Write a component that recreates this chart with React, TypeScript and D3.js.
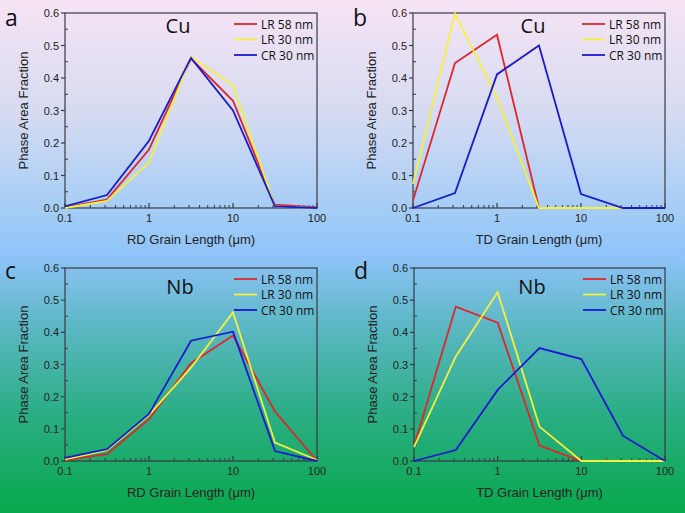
import React from 'react';
import * as d3 from 'd3';

const grainSizes = [0.1, 0.316, 1, 3.16, 10, 31.6, 100];
const seriesNames = ['LR 58 nm', 'LR 30 nm', 'CR 30 nm'];
const seriesColors = ['#e0252b', '#f4f03c', '#1a1ad0'];
const yTicks = [0, 0.1, 0.2, 0.3, 0.4, 0.5, 0.6];
const yMinorTicks = [0.05, 0.15, 0.25, 0.35, 0.45, 0.55];
const xTicks = [0.1, 1, 10, 100];
const xTickLabels = ['0.1', '1', '10', '100'];

// Cu, RD
const cuRD_LR58 = [0.002, 0.026, 0.18, 0.46, 0.33, 0.01, 0.002];
const cuRD_LR30 = [0.0, 0.022, 0.14, 0.466, 0.377, 0.005, 0.0];
const cuRD_CR30 = [0.005, 0.04, 0.207, 0.462, 0.3, 0.005, 0.0];
// Cu, TD
const cuTD_LR58 = [0.023, 0.446, 0.533, 0, 0, 0, 0];
const cuTD_LR30 = [0.074, 0.598, 0.34, 0, 0, 0, 0];
const cuTD_CR30 = [0, 0.046, 0.411, 0.5, 0.043, 0, 0];
// Nb, RD
const nbRD_LR58 = [0.003, 0.021, 0.13, 0.304, 0.39, 0.154, 0.0];
const nbRD_LR30 = [0.005, 0.034, 0.143, 0.29, 0.462, 0.057, 0.003];
const nbRD_CR30 = [0.01, 0.037, 0.146, 0.374, 0.402, 0.031, 0];
// Nb, TD
const nbTD_LR58 = [0.045, 0.48, 0.43, 0.048, 0, 0, 0];
const nbTD_LR30 = [0.043, 0.325, 0.525, 0.107, 0, 0, 0];
const nbTD_CR30 = [0, 0.034, 0.221, 0.351, 0.317, 0.078, 0];

const panelLetters = ['a', 'b', 'c', 'd'];
const panelMetals = ['Cu', 'Cu', 'Nb', 'Nb'];
const panelXTitles = ['RD Grain Length (μm)', 'TD Grain Length (μm)', 'RD Grain Length (μm)', 'TD Grain Length (μm)'];
const panelSeries = [
  [cuRD_LR58, cuRD_LR30, cuRD_CR30],
  [cuTD_LR58, cuTD_LR30, cuTD_CR30],
  [nbRD_LR58, nbRD_LR30, nbRD_CR30],
  [nbTD_LR58, nbTD_LR30, nbTD_CR30],
];

// layout (pixel boxes)
const layout = [
  { x0: 65, x1: 317, y0: 13, y1: 208, metalX: 178, metalDy: 20, letterY: 26 },
  { x0: 413, x1: 665, y0: 13, y1: 208, metalX: 533, metalDy: 20, letterY: 26 },
  { x0: 65, x1: 317, y0: 268, y1: 461, metalX: 180, metalDy: 26, letterY: 279 },
  { x0: 414, x1: 665, y0: 268, y1: 461, metalX: 532, metalDy: 26, letterY: 279 },
];

const axisColor = '#3a3a44';
const tickFont = '"Liberation Sans", Arial, sans-serif';
const labelFont = '"Open Sans", "Noto Sans", sans-serif';

function Panel({ idx }: { idx: number }) {
  const L = layout[idx];
  const x = d3.scaleLog().domain([0.1, 100]).range([L.x0, L.x1]);
  const y = d3.scaleLinear().domain([0, 0.6]).range([L.y1, L.y0]);
  const line = d3
    .line<number>()
    .x((_, i) => x(grainSizes[i]))
    .y((d) => y(d));
  const minorX: number[] = [];
  [0.1, 1, 10].forEach((dec) => {
    for (let k = 2; k <= 9; k++) minorX.push(dec * k);
  });
  const cy = (L.y0 + L.y1) / 2;
  const cx = (L.x0 + L.x1) / 2;
  return (
    <g>
      <rect x={L.x0} y={L.y0} width={L.x1 - L.x0} height={L.y1 - L.y0} fill="none" stroke={axisColor} strokeWidth={1.2} />
      {yTicks.map((t) => (
        <g key={'y' + t}>
          <line x1={L.x0 - 4} x2={L.x0} y1={y(t)} y2={y(t)} stroke={axisColor} strokeWidth={1.2} />
          <text x={L.x0 - 6} y={y(t) + 4} textAnchor="end" fontSize={11} fontFamily={tickFont} fill="#222">
            {d3.format('.1f')(t)}
          </text>
        </g>
      ))}
      {yMinorTicks.map((t) => (
        <line key={'ym' + t} x1={L.x0} x2={L.x0 + 3} y1={y(t)} y2={y(t)} stroke={axisColor} strokeWidth={1} />
      ))}
      {xTicks.map((t, i) => (
        <g key={'x' + t}>
          <line x1={x(t)} x2={x(t)} y1={L.y1} y2={L.y1 - 5} stroke={axisColor} strokeWidth={1.2} />
          <text x={x(t)} y={L.y1 + 14} textAnchor="middle" fontSize={11} fontFamily={tickFont} fill="#222">
            {xTickLabels[i]}
          </text>
        </g>
      ))}
      {minorX.map((t) => (
        <line key={'xm' + t} x1={x(t)} x2={x(t)} y1={L.y1} y2={L.y1 - 3} stroke={axisColor} strokeWidth={1} />
      ))}
      {panelSeries[idx].map((s, si) => (
        <path key={si} d={line(s) || ''} fill="none" stroke={seriesColors[si]} strokeWidth={1.8} strokeLinejoin="miter" />
      ))}
      <text x={cx} y={L.y1 + 36} textAnchor="middle" fontSize={13} fontFamily={tickFont} fill="#222">
        {panelXTitles[idx]}
      </text>
      <text
        transform={`translate(${L.x0 - 37},${cy}) rotate(-90)`}
        textAnchor="middle"
        fontSize={13}
        fontFamily={tickFont}
        fill="#222"
      >
        Phase Area Fraction
      </text>
      <text x={L.metalX} y={L.y0 + L.metalDy} textAnchor="middle" fontSize={20} fontFamily={labelFont} fill="#111">
        {panelMetals[idx]}
      </text>
      <text x={L.x0 - 60} y={L.letterY} fontSize={23} fontFamily={labelFont} fill="#111">
        {panelLetters[idx]}
      </text>
      {seriesNames.map((n, si) => {
        const ly = L.y0 + 11 + si * 15.5;
        return (
          <g key={n}>
            <line x1={L.x0 + 169} x2={L.x0 + 192} y1={ly} y2={ly} stroke={seriesColors[si]} strokeWidth={1.8} />
            <text x={L.x0 + 196} y={ly + 4.5} fontSize={12} fontFamily={labelFont} fill="#111">
              {n}
            </text>
          </g>
        );
      })}
    </g>
  );
}

export default function App() {
  return (
    <svg width={685} height={513} style={{ position: 'absolute', left: 0, top: 0 }}>
      <defs>
        <linearGradient id="bg" x1="0" y1="0" x2="0" y2="1">
          <stop offset="0" stopColor="#f6e4f4" />
          <stop offset="0.22" stopColor="#d6dbf2" />
          <stop offset="0.42" stopColor="#a2ccf6" />
          <stop offset="0.5" stopColor="#8ec3f8" />
          <stop offset="0.63" stopColor="#5db8c6" />
          <stop offset="0.8" stopColor="#2cae86" />
          <stop offset="1" stopColor="#08a84c" />
        </linearGradient>
      </defs>
      <rect x={0} y={0} width={685} height={513} fill="url(#bg)" />
      {[0, 1, 2, 3].map((i) => (
        <Panel key={i} idx={i} />
      ))}
    </svg>
  );
}
